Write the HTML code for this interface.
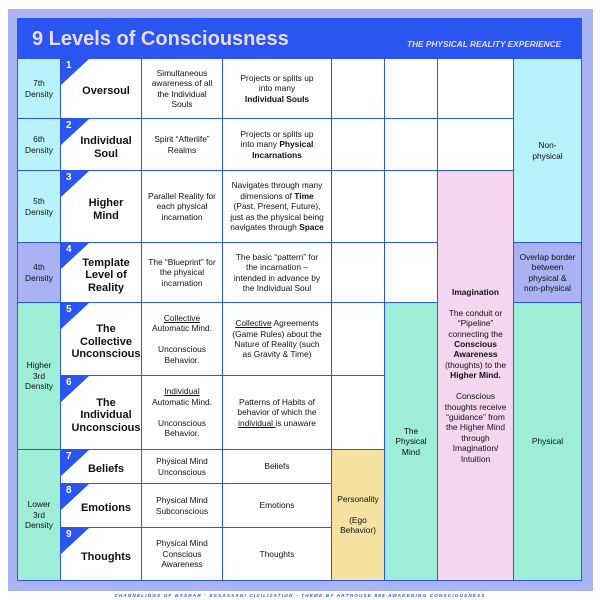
<!DOCTYPE html>
<html><head><meta charset="utf-8"><style>
*{margin:0;padding:0;box-sizing:border-box}
body{width:600px;height:600px;background:#fff;position:relative;overflow:hidden;font-family:"Liberation Sans",Arial,sans-serif;color:#111}
.c{position:absolute;border:1.5px solid #2a55f0;display:flex;align-items:center;justify-content:center;text-align:center;font-size:8.4px;line-height:10.4px;background:#fff}
.lv{font-weight:bold;font-size:11px;line-height:12.5px;padding-left:10px;padding-top:6px}
.b{position:absolute;width:28px;height:26px;background:#2a55f0;clip-path:polygon(0 0,100% 0,0 100%);color:#fff;font-weight:bold;font-size:10px}
.b span{position:absolute;left:5px;top:1px}
u{text-decoration:underline}
</style></head><body>
<div style="position:absolute;left:8px;top:9px;width:585px;height:582px;background:#aab4f3"></div>
<div style="position:absolute;left:17px;top:18px;width:565px;height:563px;background:#2a55f0"></div>
<div style="position:absolute;left:32px;top:28px;font-size:20px;font-weight:bold;color:#e6dcff">9 Levels of Consciousness</div>
<div style="position:absolute;left:407px;top:39px;font-size:8.3px;font-weight:bold;font-style:italic;color:#e6dcff">THE PHYSICAL REALITY EXPERIENCE</div>

<div class="c" style="left:17px;top:58px;width:44px;height:61px;background:#b8f3fb"><div>7th<br>Density</div></div>
<div class="c" style="left:17px;top:118px;width:44px;height:53px;background:#b8f3fb"><div>6th<br>Density</div></div>
<div class="c" style="left:17px;top:170px;width:44px;height:73px;background:#b8f3fb"><div>5th<br>Density</div></div>
<div class="c" style="left:17px;top:242px;width:44px;height:61px;background:#aab2f3"><div>4th<br>Density</div></div>
<div class="c" style="left:17px;top:302px;width:44px;height:148px;background:#9eedd6"><div>Higher<br>3rd<br>Density</div></div>
<div class="c" style="left:17px;top:449px;width:44px;height:132px;background:#9eedd6"><div>Lower<br>3rd<br>Density</div></div>

<div class="c lv" style="left:60px;top:58px;width:82px;height:61px"><div>Oversoul</div></div>
<div class="c lv" style="left:60px;top:118px;width:82px;height:53px"><div>Individual<br>Soul</div></div>
<div class="c lv" style="left:60px;top:170px;width:82px;height:73px"><div>Higher<br>Mind</div></div>
<div class="c lv" style="left:60px;top:242px;width:82px;height:61px"><div>Template<br>Level of<br>Reality</div></div>
<div class="c lv" style="left:60px;top:302px;width:82px;height:74px"><div>The<br>Collective<br>Unconscious</div></div>
<div class="c lv" style="left:60px;top:375px;width:82px;height:75px"><div>The<br>Individual<br>Unconscious</div></div>
<div class="c lv" style="left:60px;top:449px;width:82px;height:35px"><div>Beliefs</div></div>
<div class="c lv" style="left:60px;top:483px;width:82px;height:45px"><div>Emotions</div></div>
<div class="c lv" style="left:60px;top:527px;width:82px;height:54px"><div>Thoughts</div></div>
<div class="b" style="left:61px;top:59px"><span>1</span></div>
<div class="b" style="left:61px;top:119px"><span>2</span></div>
<div class="b" style="left:61px;top:171px"><span>3</span></div>
<div class="b" style="left:61px;top:243px"><span>4</span></div>
<div class="b" style="left:61px;top:303px"><span>5</span></div>
<div class="b" style="left:61px;top:376px"><span>6</span></div>
<div class="b" style="left:61px;top:450px"><span>7</span></div>
<div class="b" style="left:61px;top:484px"><span>8</span></div>
<div class="b" style="left:61px;top:528px"><span>9</span></div>

<div class="c" style="left:141px;top:58px;width:82px;height:61px"><div>Simultaneous<br>awareness of all<br>the Individual<br>Souls</div></div>
<div class="c" style="left:141px;top:118px;width:82px;height:53px"><div>Spirit “Afterlife”<br>Realms</div></div>
<div class="c" style="left:141px;top:170px;width:82px;height:73px"><div>Parallel Reality for<br>each physical<br>incarnation</div></div>
<div class="c" style="left:141px;top:242px;width:82px;height:61px"><div>The “Blueprint” for<br>the physical<br>incarnation</div></div>
<div class="c" style="left:141px;top:302px;width:82px;height:74px"><div><u>Collective</u><br>Automatic Mind.<br><br>Unconscious<br>Behavior.</div></div>
<div class="c" style="left:141px;top:375px;width:82px;height:75px"><div><u>Individual</u><br>Automatic Mind.<br><br>Unconscious<br>Behavior.</div></div>
<div class="c" style="left:141px;top:449px;width:82px;height:35px"><div>Physical Mind<br>Unconscious</div></div>
<div class="c" style="left:141px;top:483px;width:82px;height:45px"><div>Physical Mind<br>Subconscious</div></div>
<div class="c" style="left:141px;top:527px;width:82px;height:54px"><div>Physical Mind<br>Conscious<br>Awareness</div></div>

<div class="c" style="left:222px;top:58px;width:110px;height:61px"><div>Projects or splits up<br>into many<br><b>Individual Souls</b></div></div>
<div class="c" style="left:222px;top:118px;width:110px;height:53px"><div>Projects or splits up<br>into many <b>Physical<br>Incarnations</b></div></div>
<div class="c" style="left:222px;top:170px;width:110px;height:73px"><div>Navigates through many<br>dimensions of <b>Time</b><br>(Past, Present, Future),<br>just as the physical being<br>navigates through <b>Space</b></div></div>
<div class="c" style="left:222px;top:242px;width:110px;height:61px"><div>The basic “pattern” for<br>the incarnation –<br>intended in advance by<br>the Individual Soul</div></div>
<div class="c" style="left:222px;top:302px;width:110px;height:74px"><div><u>Collective</u> Agreements<br>(Game Rules) about the<br>Nature of Reality (such<br>as Gravity &amp; Time)</div></div>
<div class="c" style="left:222px;top:375px;width:110px;height:75px"><div>Patterns of Habits of<br>behavior of which the<br><u>individual </u>is unaware</div></div>
<div class="c" style="left:222px;top:449px;width:110px;height:35px"><div>Beliefs</div></div>
<div class="c" style="left:222px;top:483px;width:110px;height:45px"><div>Emotions</div></div>
<div class="c" style="left:222px;top:527px;width:110px;height:54px"><div>Thoughts</div></div>

<div class="c" style="left:331px;top:58px;width:54px;height:61px"></div>
<div class="c" style="left:331px;top:118px;width:54px;height:53px"></div>
<div class="c" style="left:331px;top:170px;width:54px;height:73px"></div>
<div class="c" style="left:331px;top:242px;width:54px;height:61px"></div>
<div class="c" style="left:331px;top:302px;width:54px;height:74px"></div>
<div class="c" style="left:331px;top:375px;width:54px;height:75px"></div>
<div class="c" style="left:331px;top:449px;width:54px;height:132px;background:#f5e2a0"><div>Personality<br><br>(Ego<br>Behavior)</div></div>

<div class="c" style="left:384px;top:58px;width:54px;height:61px"></div>
<div class="c" style="left:384px;top:118px;width:54px;height:53px"></div>
<div class="c" style="left:384px;top:170px;width:54px;height:73px"></div>
<div class="c" style="left:384px;top:242px;width:54px;height:61px"></div>
<div class="c" style="left:384px;top:302px;width:54px;height:279px;background:#9eedd6"><div>The<br>Physical<br>Mind</div></div>

<div class="c" style="left:437px;top:58px;width:77px;height:61px"></div>
<div class="c" style="left:437px;top:118px;width:77px;height:53px"></div>
<div class="c" style="left:437px;top:170px;width:77px;height:411px;background:#f5d6f0"><div><b>Imagination</b><br><br>The conduit or<br>“Pipeline”<br>connecting the<br><b>Conscious<br>Awareness</b><br>(thoughts) to the<br><b>Higher Mind.</b><br><br>Conscious<br>thoughts receive<br>“guidance” from<br>the Higher Mind<br>through<br>Imagination/<br>Intuition</div></div>

<div class="c" style="left:513px;top:58px;width:69px;height:185px;background:#b8f3fb"><div>Non-<br>physical</div></div>
<div class="c" style="left:513px;top:242px;width:69px;height:61px;background:#aab2f3"><div>Overlap border<br>between<br>physical &amp;<br>non-physical</div></div>
<div class="c" style="left:513px;top:302px;width:69px;height:279px;background:#9eedd6"><div>Physical</div></div>

<div style="position:absolute;left:0;width:600px;top:593px;text-align:center;font-size:4.6px;font-weight:bold;font-style:italic;letter-spacing:1.2px;color:#2a55f0">CHANNELINGS OF BASHAR · ESSASSANI CIVILIZATION · THEME BY ARTHOUSE 888 AWAKENING CONSCIOUSNESS</div>
</body></html>
